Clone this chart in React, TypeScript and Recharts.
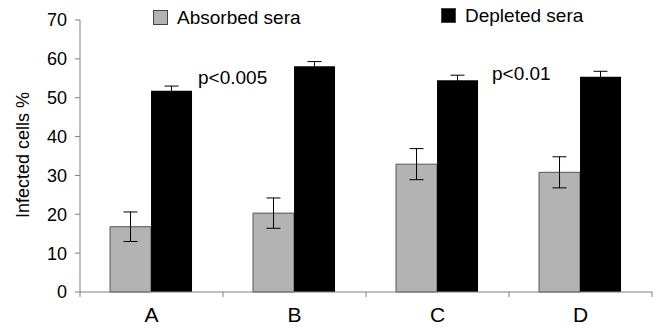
import React from "react";
import { BarChart, Bar, XAxis, YAxis, ErrorBar } from "recharts";

const groups = ["A", "B", "C", "D"];
const absorbed = [16.8, 20.3, 32.9, 30.8];
const absorbedErr = [3.8, 3.9, 4.0, 4.0];
const depleted = [51.8, 58.1, 54.5, 55.4];
const depletedErr = [1.2, 1.2, 1.3, 1.4];
const yTicks = [0, 10, 20, 30, 40, 50, 60, 70];
const boundaryTicks = [0, 1, 2, 3, 4];

const data = groups.map((g, i) => ({
  name: g,
  pos: i + 0.5,
  absorbed: absorbed[i],
  absorbedErr: absorbedErr[i],
  depleted: depleted[i],
  depletedErr: depletedErr[i],
}));

const font = "'Liberation Sans', Arial, sans-serif";
const axisGrey = "#7f7f7f";

function LegendItem({ left, top, color, text }: { left: number; top: number; color: string; text: string }) {
  return (
    <div style={{ position: "absolute", left, top, display: "flex", alignItems: "center" }}>
      <span style={{ width: 13, height: 13, background: color, border: "1px solid #444", display: "inline-block" }} />
      <span style={{ marginLeft: 9, fontSize: 19, fontFamily: font, color: "#000", lineHeight: "15px" }}>{text}</span>
    </div>
  );
}

export default function App() {
  return (
    <div style={{ position: "absolute", left: 0, top: 0, width: 657, height: 329, background: "#fff" }}>
      <BarChart
        width={657}
        height={329}
        data={data}
        margin={{ top: 20, right: 5, left: 0, bottom: 0 }}
        barCategoryGap="21%"
        barGap={0}
      >
        {/* "a" sits next to the plot: axis line + ticks at the category boundaries */}
        <XAxis
          xAxisId="a"
          dataKey="pos"
          type="number"
          domain={[0, 4]}
          ticks={boundaryTicks}
          allowDataOverflow
          tickFormatter={() => ""}
          height={1}
          stroke={axisGrey}
          tickSize={5}
        />
        <XAxis
          xAxisId="b"
          dataKey="name"
          axisLine={false}
          tickLine={false}
          height={36}
          tick={{ fontSize: 21, fontFamily: font, fill: "#000" }}
          tickMargin={8}
        />
        <YAxis
          domain={[0, 70]}
          ticks={yTicks}
          width={80}
          stroke={axisGrey}
          tickSize={5}
          tickMargin={8}
          tick={{ fontSize: 18, fontFamily: font, fill: "#000" }}
        />
        <Bar xAxisId="b" dataKey="absorbed" fill="#b3b3b3" stroke="#555" strokeWidth={1} isAnimationActive={false}>
          <ErrorBar dataKey="absorbedErr" width={7} stroke="#000" strokeWidth={1} />
        </Bar>
        <Bar xAxisId="b" dataKey="depleted" fill="#000" isAnimationActive={false}>
          <ErrorBar dataKey="depletedErr" width={7} stroke="#000" strokeWidth={1} />
        </Bar>
        <text x={198} y={84} fontSize={19} fontFamily={font} fill="#000">p&lt;0.005</text>
        <text x={492} y={80} fontSize={19} fontFamily={font} fill="#000">p&lt;0.01</text>
        <text
          x={23}
          y={155}
          fontSize={18}
          fontFamily={font}
          fill="#000"
          textAnchor="middle"
          dominantBaseline="central"
          transform="rotate(-90, 23, 155)"
        >
          Infected cells %
        </text>
      </BarChart>
      <LegendItem left={153} top={10} color="#b3b3b3" text="Absorbed sera" />
      <LegendItem left={441} top={8} color="#000" text="Depleted sera" />
    </div>
  );
}
